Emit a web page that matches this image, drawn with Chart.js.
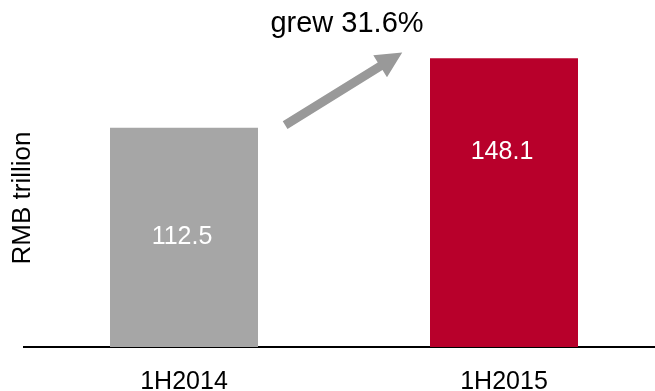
<!DOCTYPE html>
<html>
<head>
<meta charset="utf-8">
<script src="https://cdn.jsdelivr.net/npm/chart.js@4.4.0/dist/chart.umd.min.js"></script>
<style>
  html, body { margin: 0; padding: 0; background: #fff; overflow: hidden; }
  #wrap { width: 680px; height: 391px; }
</style>
</head>
<body>
<div id="wrap"><canvas id="growthChart"></canvas></div>
<script>
// data
const periods = ['1H2014', '1H2015'];
const volumes = [112.5, 148.1];
const barColors = ['#a6a6a6', '#b8002b'];
// where each value label sits, in axis units
const labelLevels = [56.25, 100];
const growthText = 'grew 31.6%';
// arrow from / to, as [category index, value]
const arrowFrom = [0.316, 113.8];
const arrowTo = [0.682, 151];

const FONT = '"Liberation Sans", Arial, sans-serif';

const annotations = {
    id: 'annotations',
    afterDatasetsDraw(chart) {
        const { ctx, scales: { x, y } } = chart;
        const xAt = v => x.getPixelForValue(0) + v * (x.getPixelForValue(1) - x.getPixelForValue(0));

        ctx.save();
        // value labels
        ctx.fillStyle = '#fff';
        ctx.font = '25px ' + FONT;
        ctx.textAlign = 'center';
        ctx.textBaseline = 'middle';
        volumes.forEach((v, i) => {
            ctx.fillText(v.toFixed(1), x.getPixelForValue(i) - 2, y.getPixelForValue(labelLevels[i]));
        });

        // arrow
        const x1 = xAt(arrowFrom[0]), y1 = y.getPixelForValue(arrowFrom[1]);
        const x2 = xAt(arrowTo[0]), y2 = y.getPixelForValue(arrowTo[1]);
        const ang = Math.atan2(y2 - y1, x2 - x1);
        const headLen = 26, headHalf = 13, shaft = 4.5;
        const bx = x2 - headLen * Math.cos(ang), by = y2 - headLen * Math.sin(ang);
        const nx = -Math.sin(ang), ny = Math.cos(ang);
        ctx.fillStyle = '#999999';
        ctx.beginPath();
        ctx.moveTo(x1 + nx * shaft, y1 + ny * shaft);
        ctx.lineTo(bx + nx * shaft, by + ny * shaft);
        ctx.lineTo(bx + nx * headHalf, by + ny * headHalf);
        ctx.lineTo(x2, y2);
        ctx.lineTo(bx - nx * headHalf, by - ny * headHalf);
        ctx.lineTo(bx - nx * shaft, by - ny * shaft);
        ctx.lineTo(x1 - nx * shaft, y1 - ny * shaft);
        ctx.closePath();
        ctx.fill();

        // growth note
        ctx.fillStyle = '#000';
        ctx.font = '29px ' + FONT;
        ctx.fillText(growthText, 347, 24);

        // y axis title
        ctx.font = '26px ' + FONT;
        ctx.translate(23, 198);
        ctx.rotate(-Math.PI / 2);
        ctx.fillText('RMB trillion', 0, 0);
        ctx.restore();
    }
};

new Chart(document.getElementById('growthChart'), {
    type: 'bar',
    data: {
        labels: periods,
        datasets: [{
            data: volumes,
            backgroundColor: barColors,
            borderWidth: 0,
            barPercentage: 0.4625,
            categoryPercentage: 1
        }]
    },
    options: {
        responsive: true,
        maintainAspectRatio: false,
        animation: false,
        layout: { padding: { top: 35, left: 24, right: 16, bottom: 0 } },
        plugins: {
            legend: { display: false },
            tooltip: { enabled: false }
        },
        scales: {
            x: {
                grid: { display: false },
                border: { color: '#000', width: 2 },
                ticks: { color: '#000', padding: 12, font: { family: FONT, size: 25 } },
                afterFit(scale) { scale.height = 44; }
            },
            y: {
                display: false,
                min: 0,
                max: 160
            }
        }
    },
    plugins: [annotations]
});
</script>
</body>
</html>
